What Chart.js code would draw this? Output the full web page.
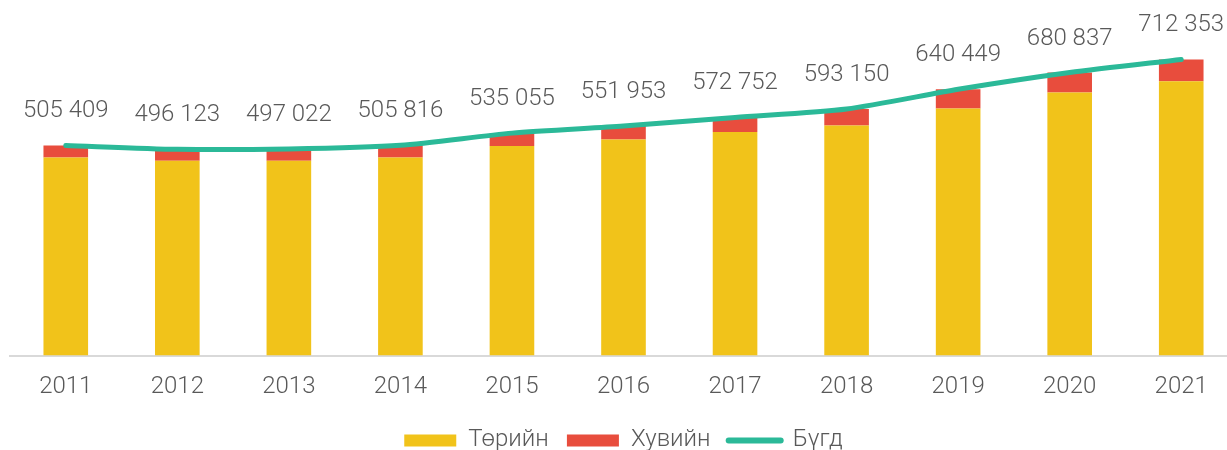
<!DOCTYPE html>
<html lang="mn">
<head>
    <meta charset="UTF-8">
    <title>Бүгд</title>
    <style>
        html, body { margin: 0; padding: 0; background: #fff; overflow: hidden; }
        .chart-box { width: 1237px; height: 450px; }
    </style>
    <script src="https://cdn.jsdelivr.net/npm/chart.js@4.4.1/dist/chart.umd.min.js"></script>
</head>
<body>
    <div class="chart-box">
        <canvas id="grafica"></canvas>
    </div>
    <script>
        const years = ['2011', '2012', '2013', '2014', '2015', '2016', '2017', '2018', '2019', '2020', '2021'];
        const stateValues = [476400, 468600, 468500, 476300, 504000, 520000, 537800, 553200, 594000, 632500, 659800];
        const privateValues = [29000, 27500, 28500, 29500, 31000, 32000, 35000, 40000, 46500, 48300, 52600];
        const totalValues = [505409, 496123, 497022, 505816, 535055, 551953, 572752, 593150, 640449, 680837, 712353];

        const textColor = '#595959';

        function fmt(n) {
            return String(n).replace(/\B(?=(\d{3})+(?!\d))/g, ' ');
        }

        // labels above the total line
        const totalLabels = {
            id: 'totalLabels',
            afterDatasetsDraw(chart) {
                const meta = chart.getDatasetMeta(2);
                const ctx = chart.ctx;
                ctx.save();
                ctx.font = '300 24px Roboto';
                ctx.fillStyle = textColor;
                ctx.textAlign = 'center';
                ctx.textBaseline = 'middle';
                meta.data.forEach((pt, i) => {
                    ctx.fillText(fmt(totalValues[i]), pt.x, pt.y - 34);
                });
                ctx.restore();
            }
        };

        const config = {
            type: 'bar',
            data: {
                labels: years,
                datasets: [
                    {
                        label: 'Төрийн',
                        data: stateValues,
                        backgroundColor: '#F1C31A',
                        barPercentage: 0.4,
                        categoryPercentage: 1.0,
                        order: 2
                    },
                    {
                        label: 'Хувийн',
                        data: privateValues,
                        backgroundColor: '#E84D3D',
                        barPercentage: 0.4,
                        categoryPercentage: 1.0,
                        order: 2
                    },
                    {
                        type: 'line',
                        label: 'Бүгд',
                        data: totalValues,
                        borderColor: '#2BB998',
                        backgroundColor: '#2BB998',
                        borderWidth: 5,
                        borderCapStyle: 'round',
                        pointRadius: 0,
                        tension: 0.25,
                        stack: 'total',
                        order: 1
                    }
                ]
            },
            options: {
                responsive: true,
                maintainAspectRatio: false,
                animation: false,
                layout: {
                    padding: { top: 23, left: 10, right: 0, bottom: -12.4 }
                },
                scales: {
                    x: {
                        stacked: true,
                        grid: { display: false },
                        border: { color: '#D9D9D9', width: 2 },
                        ticks: {
                            color: textColor,
                            padding: 9,
                            font: { family: 'Roboto', weight: '300', size: 24 }
                        }
                    },
                    y: {
                        stacked: true,
                        display: false,
                        min: 0,
                        max: 800000
                    }
                },
                plugins: {
                    tooltip: { enabled: false },
                    legend: {
                        position: 'bottom',
                        labels: {
                            color: textColor,
                            font: { family: 'Roboto', weight: '300', size: 24 },
                            usePointStyle: true,
                            pointStyleWidth: 52,
                            boxWidth: 52,
                            boxHeight: 12,
                            padding: 18.1,
                            sort: (a, b) => a.datasetIndex - b.datasetIndex,
                            generateLabels(chart) {
                                const items = Chart.defaults.plugins.legend.labels.generateLabels(chart);
                                items.forEach(item => {
                                    if (item.datasetIndex === 2) {
                                        item.pointStyle = 'line';
                                        item.lineWidth = 6;
                                        item.lineCap = 'round';
                                        item.strokeStyle = '#2BB998';
                                    } else {
                                        item.pointStyle = 'rect';
                                        item.lineWidth = 0;
                                    }
                                });
                                return items;
                            }
                        }
                    }
                }
            },
            plugins: [totalLabels]
        };

        new Chart(document.getElementById('grafica'), config);
    </script>
</body>
</html>
